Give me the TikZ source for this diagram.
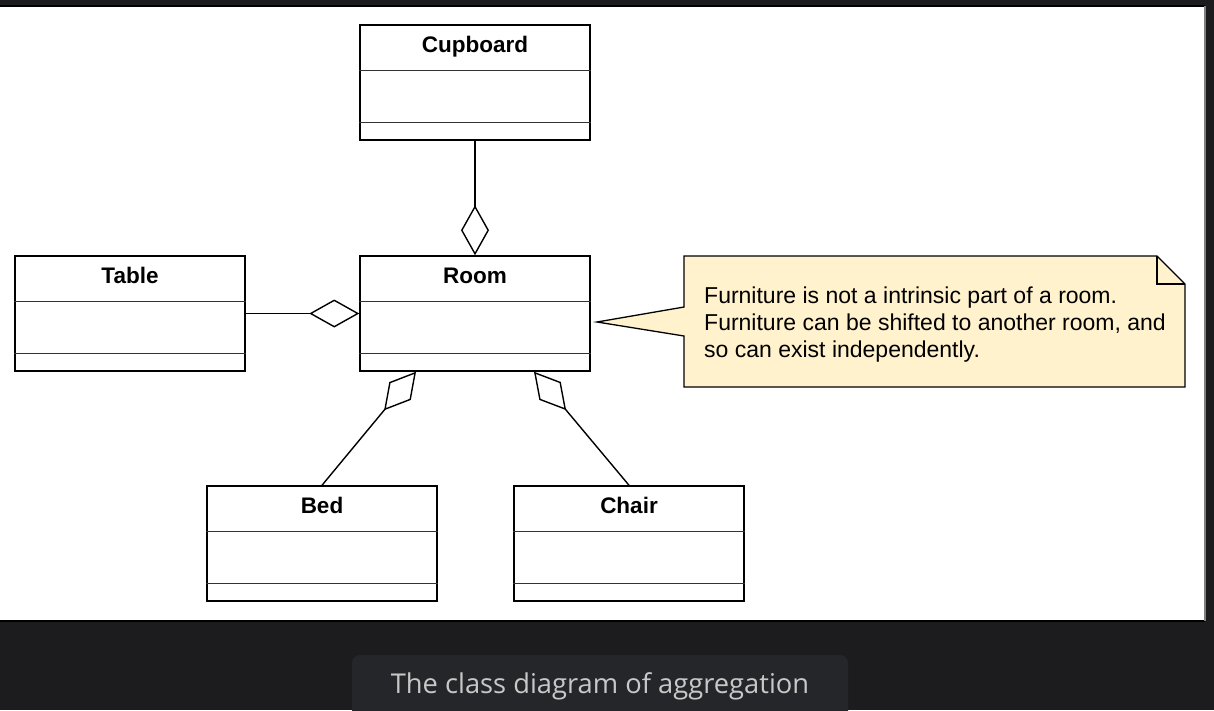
\documentclass[tikz,border=0pt]{standalone}
\usepackage{fontspec}
\setmainfont{Liberation Sans}
\newfontfamily\captionfont{Open Sans}
\usetikzlibrary{arrows.meta, positioning}
\definecolor{pagebg}{HTML}{1C1C1E}
\definecolor{capbg}{HTML}{25262A}
\definecolor{captext}{HTML}{C8C8C8}
\definecolor{notefill}{HTML}{FFF2CC}
\definecolor{compgray}{HTML}{333333}

\begin{document}
\begin{tikzpicture}[x=1pt, y=-1pt,
    classbox/.style={draw, line width=1.5pt, minimum width=230pt, minimum height=115pt, inner sep=0pt},
    classname/.style={font=\fontsize{22.5}{26}\selectfont\bfseries, anchor=base, inner sep=0pt},
    compline/.style={compgray, line width=1.5pt},
    aggr/.style={line width=1.4pt, -{Diamond[open, length=50pt, width=28pt]}},
    notetext/.style={font=\fontsize{23}{27}\selectfont, align=left, anchor=west, inner sep=0pt}]
  \useasboundingbox (0,0) rectangle (1214,710);
  \fill[pagebg] (0,0) rectangle (1214,710);
  % white panel
  \fill[white] (0,7) rectangle (1204,620);
  \draw[black, line width=2pt] (0,6) -- (1205,6);
  \draw[black, line width=2pt] (0,621) -- (1205,621);
  \draw[gray, line width=1.5pt] (1205,6) -- (1205,621);

  % classes
  \foreach \nm/\px/\py/\lbl in {cupboard/475/82.5/Cupboard, table/130/313.5/Table,
      room/475/313.5/Room, bed/322/543.5/Bed, chair/629/543.5/Chair} {
    \node[classbox] (\nm) at (\px,\py) {};
    \node[classname] at ([yshift=-28.5pt]\nm.north) {\lbl};
    \draw[compline] ([yshift=-46pt]\nm.north west) -- ([yshift=-46pt]\nm.north east);
    \draw[compline] ([yshift=-98pt]\nm.north west) -- ([yshift=-98pt]\nm.north east);
  }

  % aggregations
  \draw[aggr] (cupboard.south) -- (room.north);
  \draw[aggr] (table.east) -- (room.west);
  \draw[aggr] (bed.north) -- ([xshift=-59pt]room.south);
  \draw[aggr] (chair.north) -- ([xshift=59pt]room.south);

  % note
  \coordinate (notetip) at (597,322);
  \draw[line width=1.3pt, fill=notefill, line join=miter] (684,256) -- (1157,256) -- (1185,284)
    -- (1185,387) -- (684,387) -- (684,336) -- (notetip) -- (684,307) -- cycle;
  \draw[line width=1.3pt] (1157,256) -- (1157,284) -- (1185,284);
  \node[notetext] (notebody) at (704,324.5) {Furniture is not a intrinsic part of a room.\\
    Furniture can be shifted to another room, and\\
    so can exist independently.};

  % caption
  \fill[capbg, rounded corners=8pt] (352,655) rectangle (848,730);
  \node[font=\captionfont\fontsize{27.3}{31}\selectfont, text=captext] (caption) at (600,686)
    {The class diagram of aggregation};
\end{tikzpicture}
\end{document}
